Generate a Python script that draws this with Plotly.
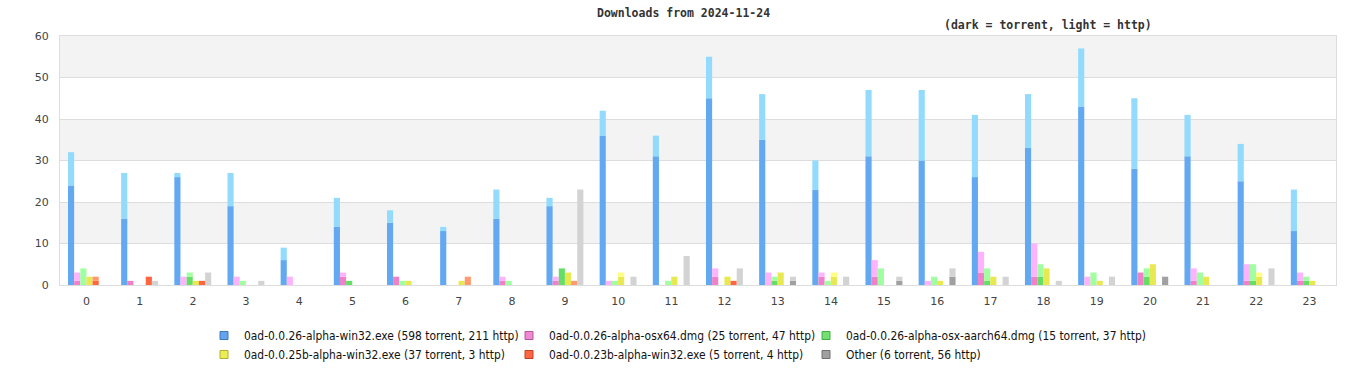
import plotly.graph_objects as go

hours = list(range(24))
hour_labels = [str(h) for h in hours]

files = [
    "0ad-0.0.26-alpha-win32.exe",
    "0ad-0.0.26-alpha-osx64.dmg",
    "0ad-0.0.26-alpha-osx-aarch64.dmg",
    "0ad-0.0.25b-alpha-win32.exe",
    "0ad-0.0.23b-alpha-win32.exe",
    "Other",
]

win32_torrent = [24, 16, 26, 19, 6, 14, 15, 13, 16, 19, 36, 31, 45, 35, 23, 31, 30, 26, 33, 43, 28, 31, 25, 13]
win32_http = [8, 11, 1, 8, 3, 7, 3, 1, 7, 2, 6, 5, 10, 11, 7, 16, 17, 15, 13, 14, 17, 10, 9, 10]

osx64_torrent = [1, 1, 0, 0, 0, 2, 2, 0, 1, 1, 0, 0, 2, 0, 2, 2, 0, 3, 2, 0, 3, 1, 1, 1]
osx64_http = [2, 0, 2, 2, 2, 1, 0, 0, 1, 1, 1, 0, 2, 3, 1, 4, 1, 5, 8, 2, 0, 3, 4, 2]

aarch64_torrent = [0, 0, 2, 0, 0, 1, 0, 0, 0, 4, 0, 0, 0, 1, 0, 0, 0, 1, 2, 0, 2, 0, 1, 1]
aarch64_http = [4, 0, 1, 1, 0, 0, 1, 0, 1, 0, 1, 1, 0, 1, 1, 4, 2, 3, 3, 3, 2, 3, 4, 1]

w25b_torrent = [2, 0, 1, 0, 0, 0, 1, 1, 0, 3, 2, 2, 2, 3, 2, 0, 1, 2, 4, 1, 5, 2, 2, 1]
w25b_http = [0, 0, 0, 0, 0, 0, 0, 0, 0, 0, 1, 0, 0, 0, 1, 0, 0, 0, 0, 0, 0, 0, 1, 0]

w23b_torrent = [1, 2, 1, 0, 0, 0, 0, 0, 0, 0, 0, 0, 1, 0, 0, 0, 0, 0, 0, 0, 0, 0, 0, 0]
w23b_http = [1, 0, 0, 0, 0, 0, 0, 2, 0, 1, 0, 0, 0, 0, 0, 0, 0, 0, 0, 0, 0, 0, 0, 0]

other_torrent = [0, 0, 0, 0, 0, 0, 0, 0, 0, 0, 0, 0, 0, 1, 0, 1, 2, 0, 0, 0, 2, 0, 0, 0]
other_http = [0, 1, 3, 1, 0, 0, 0, 0, 0, 23, 2, 7, 4, 1, 2, 1, 2, 2, 1, 2, 0, 0, 4, 0]

torrent_series = [win32_torrent, osx64_torrent, aarch64_torrent, w25b_torrent, w23b_torrent, other_torrent]
http_series = [win32_http, osx64_http, aarch64_http, w25b_http, w23b_http, other_http]

dark_colors = ["#62a9f2", "#f080c8", "#66dd66", "#e8e850", "#ff6640", "#a0a0a0"]
light_colors = ["#92dbfd", "#ffb3ff", "#a0ffa0", "#ffff80", "#ff9a70", "#d3d3d3"]
legend_colors = ["#64a4ec", "#f088d4", "#74e074", "#ecec54", "#ff6644", "#a0a0a0"]
legend_borders = ["#3a78c0", "#b05a98", "#3fae3f", "#b0b030", "#c04020", "#707070"]

bar_w = 0.1157
group_start = -0.35

fig = go.Figure()

for i, name in enumerate(files):
    off = group_start + i * bar_w
    fig.add_trace(go.Bar(
        x=hours, y=torrent_series[i], offset=off, width=bar_w,
        marker=dict(color=dark_colors[i], line=dict(width=0)),
        showlegend=False, name=name + " torrent",
    ))
    fig.add_trace(go.Bar(
        x=hours, y=http_series[i], base=torrent_series[i], offset=off, width=bar_w,
        marker=dict(color=light_colors[i], line=dict(width=0)),
        showlegend=False, name=name + " http",
    ))

# legend entries: three columns as three legends
legend_names = ["legend", "legend2", "legend3"]
for i, name in enumerate(files):
    t = sum(torrent_series[i])
    h = sum(http_series[i])
    fig.add_trace(go.Scatter(
        x=[None], y=[None], mode="markers",
        marker=dict(symbol="square", size=8, color=legend_colors[i],
                    line=dict(color=legend_borders[i], width=1)),
        name=f"{name} ({t} torrent, {h} http)",
        legend=legend_names[i % 3],
    ))

plot_left, plot_right, plot_top, plot_bottom = 60, 1336, 36, 285
pw = plot_right - plot_left
ph = plot_bottom - plot_top


def px_x(p):
    return (p - plot_left) / pw


def px_y(p):
    return (plot_bottom - p) / ph


legend_font = dict(family="DejaVu Sans Condensed, Liberation Sans Narrow, DejaVu Sans", size=11.9, color="#111")
col_text_x = [244, 549, 846]
for name, tx in zip(legend_names, col_text_x):
    fig.update_layout({name: dict(
        x=px_x(tx - 40), y=px_y(321), xanchor="left", yanchor="top",
        orientation="v", font=legend_font, bgcolor="rgba(0,0,0,0)",
        borderwidth=0, itemclick=False, tracegroupgap=0,
    )})

# alternating bands
for lo in [10, 30, 50]:
    fig.add_shape(type="rect", xref="paper", yref="y", x0=0, x1=1, y0=lo, y1=lo + 10,
                  fillcolor="#f3f3f3", line=dict(width=0), layer="below")

mono = "DejaVu Sans Mono"
fig.add_annotation(text="<b>Downloads from 2024-11-24</b>", xref="paper", yref="paper",
                   x=px_x(683), y=px_y(13), xanchor="center", yanchor="middle",
                   showarrow=False, font=dict(family=mono, size=11.5, color="#333"))
fig.add_annotation(text="<b>(dark = torrent, light = http)</b>", xref="paper", yref="paper",
                   x=px_x(1047.5), y=px_y(25), xanchor="center", yanchor="middle",
                   showarrow=False, font=dict(family=mono, size=11.5, color="#333"))

fig.update_layout(
    width=1366, height=380,
    margin=dict(l=plot_left, r=1366 - plot_right, t=plot_top, b=380 - plot_bottom, autoexpand=False),
    barmode="overlay",
    plot_bgcolor="white", paper_bgcolor="white",
    font=dict(family="DejaVu Sans", size=11, color="#444"),
    xaxis=dict(range=[-0.5, 23.5], tickmode="array", tickvals=hours, ticktext=hour_labels,
               showgrid=False, zeroline=False, showline=True, linecolor="#dddddd", linewidth=1,
               mirror=True, ticks="outside", ticklen=6, tickcolor="rgba(0,0,0,0)",
               tickfont=dict(family="DejaVu Sans", size=11, color="#444")),
    yaxis=dict(range=[0, 60], dtick=10, showgrid=True, gridcolor="#dddddd", gridwidth=1,
               zeroline=False, showline=True, linecolor="#dddddd", linewidth=1, mirror=True,
               ticks="outside", ticklen=8, tickcolor="rgba(0,0,0,0)",
               tickfont=dict(family="DejaVu Sans", size=11, color="#444")),
    hovermode=False,
)

fig.write_html("out.html", config={"displayModeBar": False},
               post_script="document.body.style.margin='0';")
